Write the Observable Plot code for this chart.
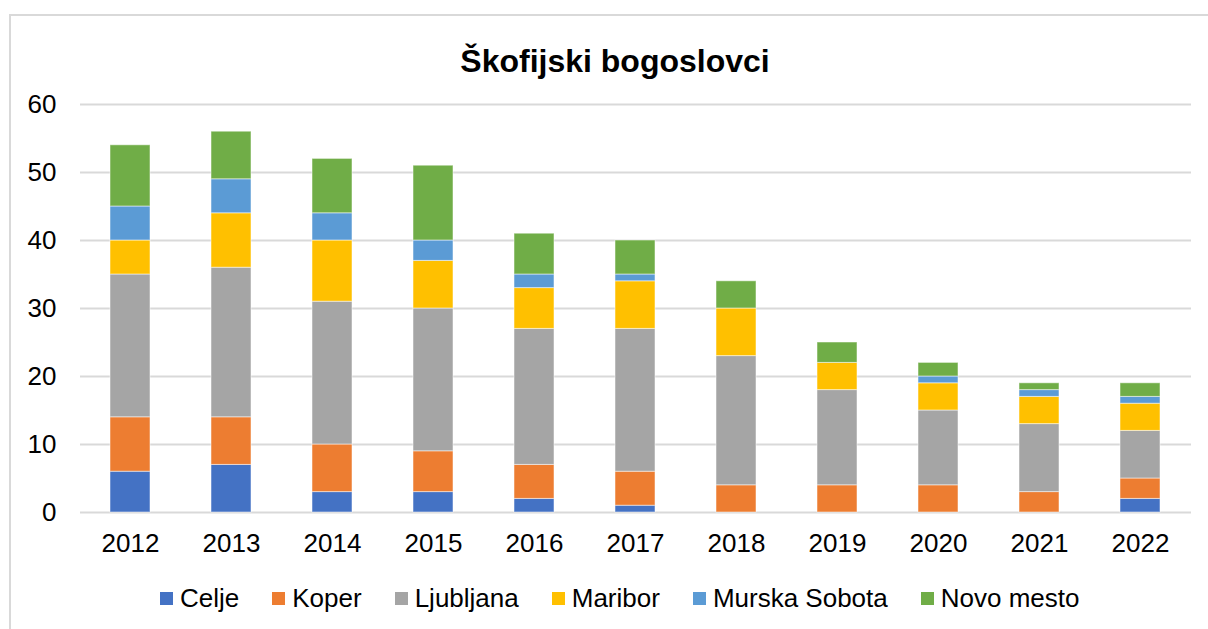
<!DOCTYPE html>
<html><head><meta charset="utf-8">
<script src="https://cdn.jsdelivr.net/npm/d3@7"></script>
<script src="https://cdn.jsdelivr.net/npm/@observablehq/plot@0.6"></script>
<style>
body{margin:0;width:1208px;height:629px;overflow:hidden;background:#fff;font-family:"Liberation Sans",Arial,sans-serif;position:relative}
#frame{position:absolute;left:9px;top:14px;width:1300px;height:700px;border-left:2px solid #d9d9d9;border-top:2px solid #d9d9d9}
#title{position:absolute;left:0;top:45px;width:1230px;text-align:center;font-weight:bold;font-size:32px;line-height:32px;color:#000}
#chart{position:absolute;left:0;top:80px}
#legend{position:absolute;left:160px;top:585px;display:flex;gap:33px;font-size:26px;line-height:26px;align-items:center;color:#000}
.item{display:flex;align-items:center}
.sw{width:13px;height:13px;margin-right:7px}
</style></head><body>
<div id="frame"></div>
<div id="title">Škofijski bogoslovci</div>
<div id="chart"></div>
<div id="legend"></div>
<script>
const years = ["2012","2013","2014","2015","2016","2017","2018","2019","2020","2021","2022"];
const seriesNames = ["Celje","Koper","Ljubljana","Maribor","Murska Sobota","Novo mesto"];
const colors = ["#4472C4","#ED7D31","#A5A5A5","#FFC000","#5B9BD5","#70AD47"];
const celje        = [6, 7, 3, 3, 2, 1, 0, 0, 0, 0, 2];
const koper        = [8, 7, 7, 6, 5, 5, 4, 4, 4, 3, 3];
const ljubljana    = [21, 22, 21, 21, 20, 21, 19, 14, 11, 10, 7];
const maribor      = [5, 8, 9, 7, 6, 7, 7, 4, 4, 4, 4];
const murskaSobota = [5, 5, 4, 3, 2, 1, 0, 0, 1, 1, 1];
const novoMesto    = [9, 7, 8, 11, 6, 5, 4, 3, 2, 1, 2];
const yTicks = [0, 10, 20, 30, 40, 50, 60];

const seriesValues = [celje, koper, ljubljana, maribor, murskaSobota, novoMesto];
const table = [];
seriesNames.forEach((name, i) => {
  years.forEach((yr, j) => {
    if (seriesValues[i][j] > 0) table.push({year: yr, series: name, value: seriesValues[i][j]});
  });
});

const chart = Plot.plot({
  width: 1208,
  height: 490,
  marginTop: 24,
  marginBottom: 58,
  marginLeft: 80,
  marginRight: 17,
  style: {fontFamily: '"Liberation Sans", Arial, sans-serif', fontSize: "26px", color: "#000", background: "transparent"},
  x: {domain: years, paddingInner: 0.6, paddingOuter: 0.3, label: null},
  y: {domain: [0, 60], ticks: yTicks, label: null},
  color: {domain: seriesNames, range: colors},
  marks: [
    Plot.gridY(yTicks, {stroke: "#d9d9d9", strokeOpacity: 1, strokeWidth: 2}),
    Plot.barY(table, Plot.stackY({x: "year", y: "value", fill: "series", stroke: "white", strokeOpacity: 0.5, strokeWidth: 1})),
    Plot.axisY({ticks: yTicks, tickSize: 0, tickPadding: 24, fontSize: 26, label: null}),
    Plot.axisX({tickSize: 0, tickPadding: 21, fontSize: 26, label: null})
  ]
});
document.getElementById("chart").appendChild(chart);

const legend = document.getElementById("legend");
seriesNames.forEach((name, i) => {
  const it = document.createElement("div");
  it.className = "item";
  const sw = document.createElement("div");
  sw.className = "sw";
  sw.style.background = colors[i];
  const tx = document.createElement("span");
  tx.textContent = name;
  it.appendChild(sw); it.appendChild(tx);
  legend.appendChild(it);
});
</script>
</body></html>
